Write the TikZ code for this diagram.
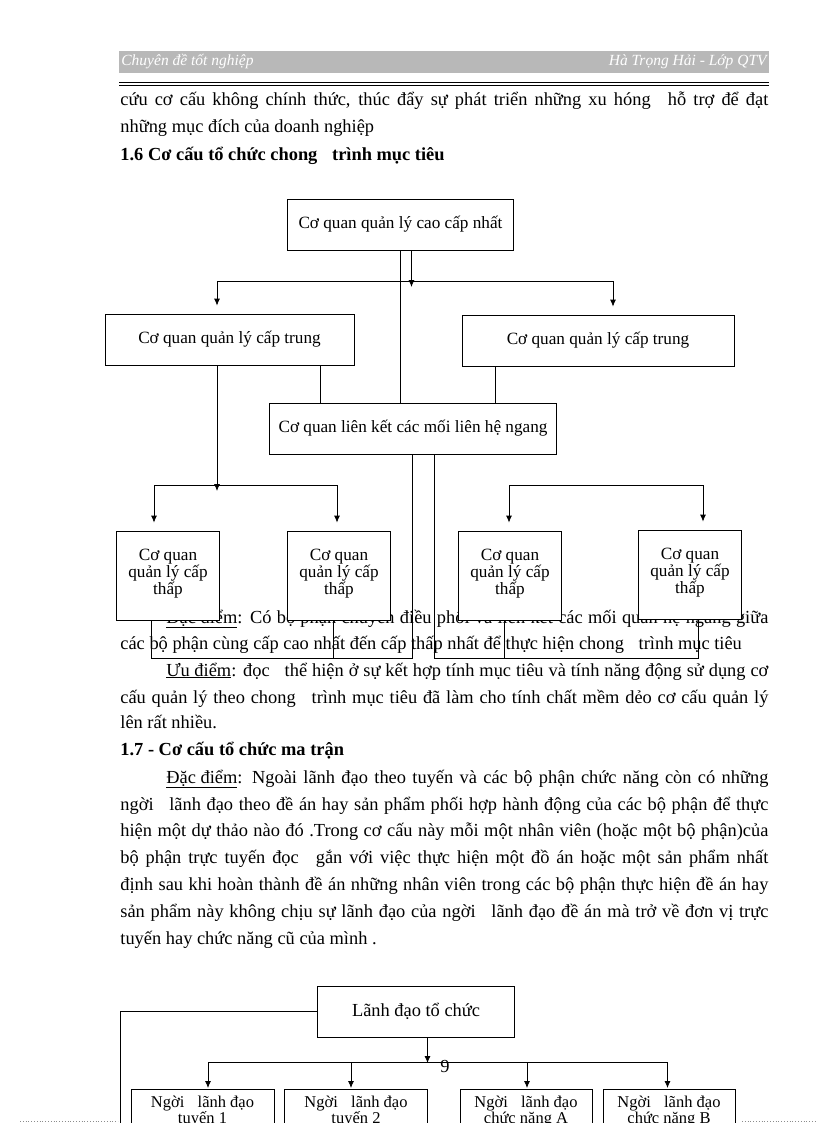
\documentclass[tikz,border=0pt]{standalone}
\usepackage{fontspec}
\setmainfont{Liberation Serif}
\usetikzlibrary{arrows.meta}

\newcommand\gap{\hspace{0.55em}}
\newcommand\full[2][648pt]{\hbox to #1{#2}}

\tikzset{
  txt/.style={inner sep=0pt,font=\fontsize{18.4}{27}\selectfont},
  headtext/.style={inner sep=0pt,text=white,font=\fontsize{15.5}{17}\selectfont\itshape},
  box/.style={draw,fill=white,line width=0.8pt,inner sep=0pt,font=\fontsize{17.2}{16}\selectfont},
  lowbox/.style={box,minimum width=103pt,minimum height=89pt},
  leadbox/.style={box,minimum width=143pt,minimum height=50pt,anchor=north,font=\fontsize{16.5}{16}\selectfont},
  arr/.style={-{Latex[length=7pt,width=6pt]}},
}

\begin{document}
\begin{tikzpicture}[x=1pt,y=-1pt,line width=0.8pt]%
\useasboundingbox[fill=white] (0,0) rectangle (816,1123);
% page head
\fill[black!28] (119,51) rectangle (769,73);
\node[headtext,anchor=west] (headl) at (121,62) {Chuyên đề tốt nghiệp};
\node[headtext,anchor=east] (headr) at (767,62) {Hà Trọng Hải - Lớp QTV};
\draw[line width=1.4pt] (119,82.5) -- (769,82.5);
\draw (119,85.8) -- (769,85.8);
% running text
\node[txt,anchor=base west] (l1) at (120,106) {\full{cứu cơ cấu không chính thức, thúc đẩy sự phát triển những xu hóng\gap{} hỗ trợ để đạt}};
\node[txt,anchor=base west] (l2) at (120,133) {những mục đích của doanh nghiệp};
\node[txt,anchor=base west] (l3) at (120,161) {\bfseries 1.6 Cơ cấu tổ chức chong\gap{} trình mục tiêu};
\node[txt,anchor=base west] (l4) at (166,623) {\full[602pt]{\underline{Đặc điểm}: Có bộ phận chuyên điều phối và liên kết các mối quan hệ ngang giữa}};
\node[txt,anchor=base west] (l5) at (120,649) {các bộ phận cùng cấp cao nhất đến cấp thấp nhất để thực hiện chong\gap{} trình mục tiêu};
\node[txt,anchor=base west] (l6) at (166,676) {\full[602pt]{\underline{Ưu điểm}: đọc\gap{} thể hiện ở sự kết hợp tính mục tiêu và tính năng động sử dụng cơ}};
\node[txt,anchor=base west] (l7) at (120,703) {\full{cấu quản lý theo chong\gap{} trình mục tiêu đã làm cho tính chất mềm dẻo cơ cấu quản lý}};
\node[txt,anchor=base west] (l8) at (120,728) {lên rất nhiều.};
\node[txt,anchor=base west] (l9) at (120,755) {\bfseries 1.7 - Cơ cấu tổ chức ma trận};
\node[txt,anchor=base west] (l10) at (166,783) {\full[602pt]{\underline{Đặc điểm}: Ngoài lãnh đạo theo tuyến và các bộ phận chức năng còn có những}};
\node[txt,anchor=base west] (l11) at (120,810) {\full{ngời\gap{} lãnh đạo theo đề án hay sản phẩm phối hợp hành động của các bộ phận để thực}};
\node[txt,anchor=base west] (l12) at (120,836) {\full{hiện một dự thảo nào đó .Trong cơ cấu này mỗi một nhân viên (hoặc một bộ phận)của}};
\node[txt,anchor=base west] (l13) at (120,863) {\full{bộ phận trực tuyến đọc\gap{} gắn với việc thực hiện một đồ án hoặc một sản phẩm nhất}};
\node[txt,anchor=base west] (l14) at (120,890) {\full{định sau khi hoàn thành đề án những nhân viên trong các bộ phận thực hiện đề án hay}};
\node[txt,anchor=base west] (l15) at (120,917) {\full{sản phẩm này không chịu sự lãnh đạo của ngời\gap{} lãnh đạo đề án mà trở về đơn vị trực}};
\node[txt,anchor=base west] (l16) at (120,944) {tuyến hay chức năng cũ của mình .};
% programme-objective structure
\node[box,minimum width=226pt,minimum height=51pt] (top) at (400.5,224.5) {Cơ quan quản lý cao cấp nhất};
\node[box,minimum width=249pt,minimum height=51pt] (midL) at (229.5,339.5) {Cơ quan quản lý cấp trung};
\node[box,minimum width=272pt,minimum height=51pt] (midR) at (598,340.5) {Cơ quan quản lý cấp trung};
\node[box,minimum width=287pt,minimum height=51pt] (link) at (413,428.5) {Cơ quan liên kết các mối liên hệ ngang};
\node[lowbox] (low1) at (168,575.5) {\parbox[c][53pt][t]{100pt}{\centering Cơ quan\\ quản lý cấp\\ thấp}};
\node[lowbox] (low2) at (339,575.5) {\parbox[c][53pt][t]{100pt}{\centering Cơ quan\\ quản lý cấp\\ thấp}};
\node[lowbox] (low3) at (510,575.5) {\parbox[c][53pt][t]{100pt}{\centering Cơ quan\\ quản lý cấp\\ thấp}};
\node[lowbox] (low4) at (690,574.5) {\parbox[c][53pt][t]{100pt}{\centering Cơ quan\\ quản lý cấp\\ thấp}};
% top level down
\coordinate (t1) at (411.5,281);
\coordinate (busL) at (217,281);
\coordinate (busR) at (613,281);
\draw (top.south) -- (top.south |- link.north);
\draw[arr] (top.south -| t1) -- ([yshift=-6pt]t1);
\draw (busL) -- (busR);
\draw[arr,shorten >=8pt] (busL) -- (busL |- midL.north);
\draw[arr,shorten >=8pt] (busR) -- (busR |- midR.north);
% middle level down
\coordinate (m1) at (217,485);
\coordinate (busLL) at (154,485);
\coordinate (busLR) at (337,485);
\coordinate (busRL) at (509,485);
\coordinate (busRR) at (703,485);
\draw[arr] (midL.south -| m1) -- ([yshift=-6pt]m1);
\draw (busLL) -- (busLR);
\draw (busRL) -- (busRR);
\draw[arr,shorten >=8pt] (busLL) -- (busLL |- low1.north);
\draw[arr,shorten >=8pt] (busLR) -- (busLR |- low2.north);
\draw[arr,shorten >=8pt] (busRL) -- (busRL |- low3.north);
\draw[arr,shorten >=8pt] (busRR) -- (busRR |- low4.north);
\coordinate (k1) at (320,403);
\coordinate (k2) at (495.5,403);
\draw (midL.south -| k1) -- (k1);
\draw (midR.south -| k2) -- (k2);
% horizontal links below
\coordinate (hl) at (412,658);
\coordinate (hr) at (434,658);
\coordinate (dl) at (151,658);
\coordinate (dm) at (333,658);
\coordinate (dn) at (504,658);
\coordinate (dr) at (698,658);
\draw (link.south -| hl) -- (hl) -- (dl) -- (dl |- low1.south);
\draw (dm) -- (dm |- low2.south);
\draw (link.south -| hr) -- (hr) -- (dr) -- (dr |- low4.south);
\draw (dn) -- (dn |- low3.south);
% matrix structure
\node[box,minimum width=197pt,minimum height=51pt,font=\fontsize{18.4}{20}\selectfont] (lead) at (416,1011.5) {Lãnh đạo tổ chức};
\node[leadbox] (line1) at (202.5,1089) {\parbox[c][36pt][t]{140pt}{\centering Ngời\gap{} lãnh đạo\\ tuyến 1}};
\node[leadbox] (line2) at (356,1089) {\parbox[c][36pt][t]{140pt}{\centering Ngời\gap{} lãnh đạo\\ tuyến 2}};
\node[leadbox,minimum width=132pt] (funcA) at (526,1089) {\parbox[c][36pt][t]{128pt}{\centering Ngời\gap{} lãnh đạo\\ chức năng A}};
\node[leadbox,minimum width=132pt] (funcB) at (669,1089) {\parbox[c][36pt][t]{128pt}{\centering Ngời\gap{} lãnh đạo\\ chức năng B}};
\coordinate (b0) at (427.5,1062);
\coordinate (bl) at (208,1062);
\coordinate (br) at (667.5,1062);
\draw[arr] (lead.south -| b0) -- ([yshift=-1pt]b0);
\draw (bl) -- (br);
\foreach \n/\x in {line1/208,line2/351,funcA/527,funcB/667.5}
  \draw[arr,shorten >=1pt] (\x,1062) -- (\n.north -| \x,0);
\draw (lead.west) -| (120.5,1140);
\node[txt] (pgno) at (445,1066) {9};
% page break marks
\draw[black!45,dotted] (20,1121) -- (118,1121);
\draw[black!45,dotted] (742,1121) -- (816,1121);
\end{tikzpicture}
\end{document}
